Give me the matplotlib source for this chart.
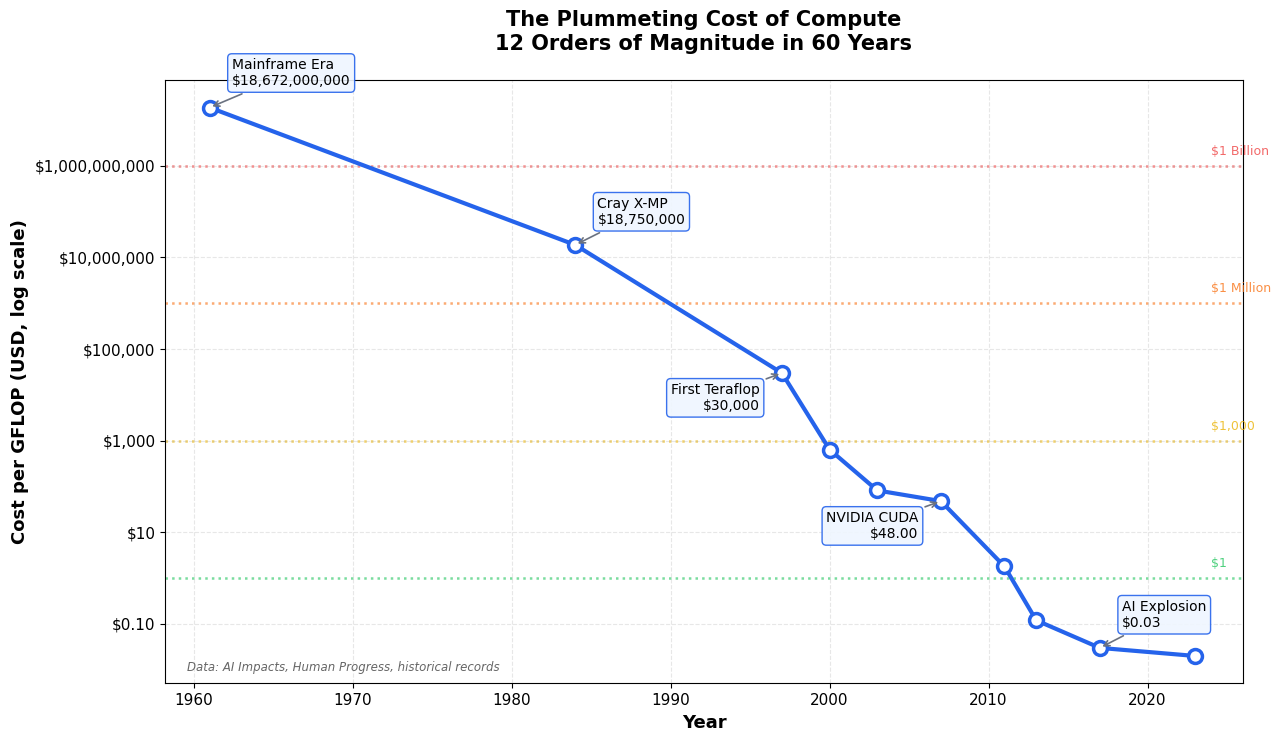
import numpy as np
import matplotlib.pyplot as plt
from matplotlib.ticker import FuncFormatter, FixedLocator

years = [1961, 1984, 1997, 2000, 2003, 2007, 2011, 2013, 2017, 2023]
costs = [18672000000, 18750000, 30000, 640, 82, 48, 1.80, 0.12, 0.03, 0.02]

events = ['Mainframe Era', 'Cray X-MP', 'First Teraflop', 'NVIDIA CUDA', 'AI Explosion']
event_years = [1961, 1984, 1997, 2007, 2017]
event_labels = ['$18,672,000,000', '$18,750,000', '$30,000', '$48.00', '$0.03']

ref_values = [1e9, 1e6, 1e3, 1]
ref_labels = ['$1 Billion', '$1 Million', '$1,000', '$1']
ref_colors = ['#ef4444', '#f97316', '#eab308', '#22c55e']

yticks = [1e-1, 1e1, 1e3, 1e5, 1e7, 1e9]


def money(y, pos=None):
    if y >= 1:
        return f'${y:,.0f}'
    return f'${y:.2f}'


if __name__ == '__main__':
    fig, ax = plt.subplots(figsize=(12.8, 7.42), dpi=100)
    fig.subplots_adjust(left=0.129, right=0.971, top=0.892, bottom=0.079)

    ax.plot(years, costs, color='#2563eb', linewidth=3, marker='o', markersize=10,
            markerfacecolor='white', markeredgecolor='#2563eb', markeredgewidth=2.5, zorder=3)
    ax.set_yscale('log')
    ax.set_xlim(1958.2, 2026)

    # reference lines
    for v, lab, c in zip(ref_values, ref_labels, ref_colors):
        ax.axhline(v, color=c, linestyle=':', linewidth=1.8, alpha=0.6, zorder=1)
        ax.text(2024, v * 1.5, lab, color=c, fontsize=9, alpha=0.8, va='bottom', ha='left')

    # annotations
    offsets = {'Mainframe Era': (16, 14, 'left', 'bottom'),
               'Cray X-MP': (16, 13, 'left', 'bottom'),
               'First Teraflop': (-16, -7, 'right', 'top'),
               'NVIDIA CUDA': (-16, -7, 'right', 'top'),
               'AI Explosion': (16, 13, 'left', 'bottom')}
    for name, yr, lab in zip(events, event_years, event_labels):
        dx, dy, ha, va = offsets[name]
        val = costs[years.index(yr)]
        ax.annotate(f'{name}\n{lab}', xy=(yr, val), xytext=(dx, dy), textcoords='offset points',
                    ha=ha, va=va, fontsize=10,
                    bbox=dict(boxstyle='round,pad=0.3', facecolor='#eff6ff', edgecolor='#2563eb', alpha=0.9),
                    arrowprops=dict(arrowstyle='->', color='#6b7280', lw=1.2), zorder=4)

    ax.yaxis.set_major_locator(FixedLocator(yticks))
    ax.yaxis.set_major_formatter(FuncFormatter(money))
    ax.yaxis.set_minor_locator(FixedLocator([]))
    ax.set_xticks(range(1960, 2021, 10))
    ax.tick_params(labelsize=11)

    ax.grid(True, linestyle='--', alpha=0.3)
    ax.set_xlabel('Year', fontsize=13, fontweight='bold')
    ax.set_ylabel('Cost per GFLOP (USD, log scale)', fontsize=13, fontweight='bold')
    ax.set_title('The Plummeting Cost of Compute\n12 Orders of Magnitude in 60 Years',
                 fontsize=15, fontweight='bold', pad=22)

    ax.text(0.02, 0.015, 'Data: AI Impacts, Human Progress, historical records', transform=ax.transAxes,
            fontsize=8.5, style='italic', color='#666666', va='bottom')

    plt.savefig('out.png', dpi=100)
